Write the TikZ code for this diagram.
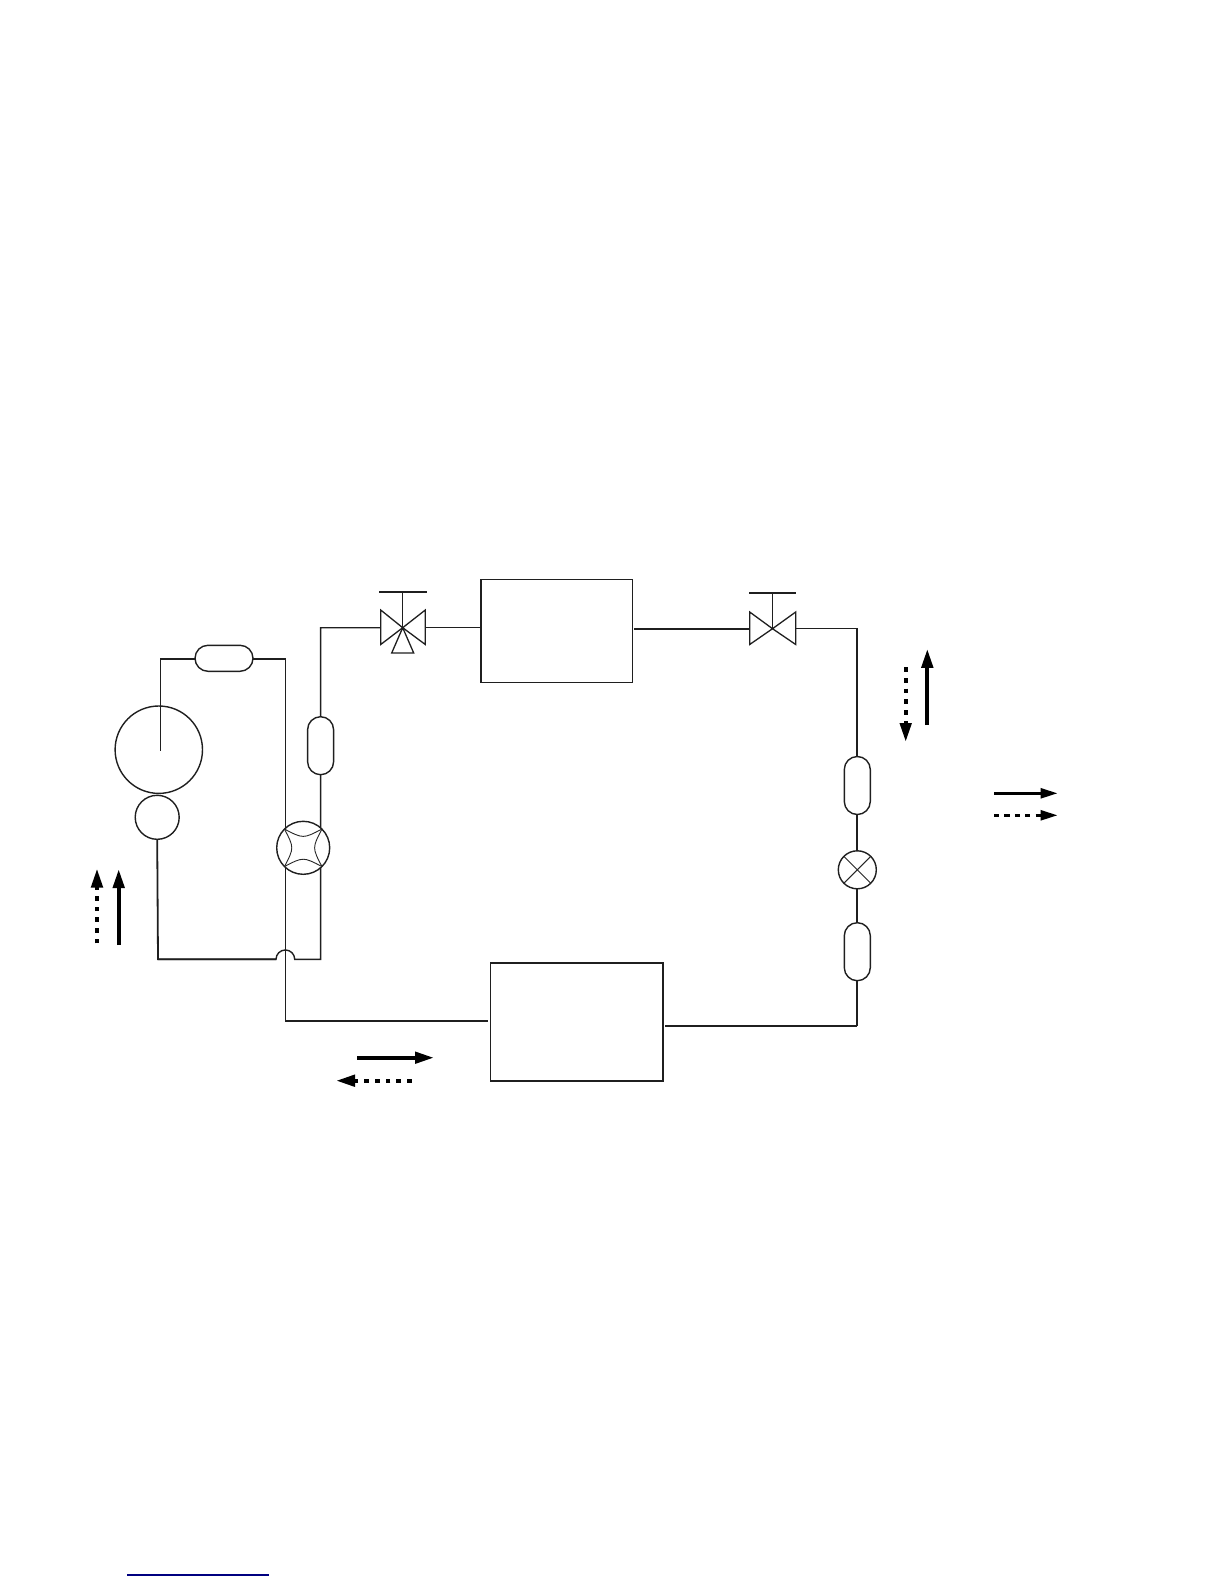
\documentclass[tikz,border=0pt]{standalone}
\usetikzlibrary{arrows.meta}
\definecolor{linkblue}{RGB}{0,0,128}
\tikzset{
  x=0.5pt,y=-0.5pt,
  pipe/.style={line width=0.7pt,line join=miter,black!88},
  heavypipe/.style={line width=0.9pt,line join=miter,black!88},
  thinpipe/.style={line width=0.45pt,black!85},
  vfilter/.style={draw=black!88,line width=0.7pt,fill=white,rectangle,rounded corners=6.5pt,minimum width=13pt,minimum height=29pt,outer sep=0pt,inner sep=0pt},
  hfilter/.style={draw=black!88,line width=0.7pt,fill=white,rectangle,rounded corners=6.5pt,minimum width=29pt,minimum height=13pt,outer sep=0pt,inner sep=0pt},
  roundpart/.style={draw=black!88,line width=0.7pt,fill=white,circle,outer sep=0pt,inner sep=0pt},
  boxpart/.style={draw=black!88,line width=0.7pt,rectangle,outer sep=0pt,inner sep=0pt},
  valvepart/.style={draw=black!88,line width=0.65pt,line join=miter},
  solidflow/.style={line width=2pt,-{Triangle[length=9.5pt,width=5.6pt]}},
  dashflow/.style={line width=2pt,dash pattern=on 2.35pt off 3pt,-{Triangle[length=9.5pt,width=5.6pt]}},
  solidflowsm/.style={line width=1.7pt,-{Triangle[length=8.7pt,width=4.8pt]}},
  dashflowsm/.style={line width=1.7pt,dash pattern=on 2.6pt off 2.6pt,-{Triangle[length=8.7pt,width=4.8pt]}},
}
\begin{document}
\begin{tikzpicture}
\useasboundingbox (0,0) rectangle (1224,1584);
% reference points
\coordinate (pipeIn) at (160.3,750.7);
\coordinate (pipeLeftTop) at (160.3,659);
\coordinate (pipeMid) at (285.3,659);
\coordinate (pipeMidBot) at (285.3,1020.7);
\coordinate (jumpL) at (276,959.3);
\coordinate (jumpR) at (294.7,959.3);
\coordinate (cornerBL) at (158,959.3);
\coordinate (cornerBR) at (320.6,959.3);
\coordinate (cornerTL) at (320.6,627.7);
\coordinate (v1) at (402.7,627.7);
\coordinate (v1L) at (380.7,627.7);
\coordinate (v1R) at (425.3,627.7);
\coordinate (v2) at (772.5,628.7);
\coordinate (v2L) at (749.7,628.7);
\coordinate (v2R) at (795.7,628.7);
\coordinate (cornerTR) at (857,628.7);
\coordinate (cornerBR2) at (857,1026);
% parts
\node[boxpart,minimum width=75.75pt,minimum height=51.75pt] (hx1) at (556.8,631) {};
\node[boxpart,minimum width=86.2pt,minimum height=59pt] (hx2) at (576.8,1022) {};
% pipes
\draw[pipe] (cornerBL) -- (jumpL) arc[start angle=180,end angle=360,radius=9.35] -- (cornerBR) -- (cornerTL) -- (v1L);
\draw[pipe] (pipeIn) -- (pipeLeftTop) -- (pipeMid) -- (pipeMidBot);
\draw[heavypipe,shorten >=1.2pt] (pipeMidBot) -- (pipeMidBot -| hx2.west);
\draw[pipe] (v1R) -- (v1R -| hx1.west);
\draw[heavypipe,shorten <=0.6pt] (v2L -| hx1.east) -- (v2L);
\draw[pipe] (v2R) -- (cornerTR) -- (cornerBR2);
\draw[heavypipe,shorten >=1.2pt] (cornerBR2) -- (cornerBR2 -| hx2.east);
% accumulator (unfilled so the inlet pipe shows), compressor
\node[draw=black!88,line width=0.7pt,circle,outer sep=0pt,inner sep=0pt,minimum size=43.7pt] (acc) at (158.8,749.7) {};
\node[roundpart,minimum size=22pt] (comp) at (157.2,817.3) {};
\draw[heavypipe] (comp.south) -- (cornerBL) -- (jumpL);
% filters
\node[hfilter] (fTop) at (224,658.3) {};
\node[vfilter] (fMid) at (320.6,745.7) {};
\node[vfilter] (fR1) at (857.3,785.5) {};
\node[vfilter] (fR2) at (857.3,951.7) {};
% four-way valve
\node[roundpart,minimum size=26.5pt] (fw) at (303.2,847.8) {};
\draw[thinpipe] (fw.north west) .. controls ([yshift=4.5pt]fw.center) .. (fw.north east);
\draw[thinpipe] (fw.south west) .. controls ([yshift=-4.5pt]fw.center) .. (fw.south east);
\draw[thinpipe] (fw.north west) .. controls ([xshift=-4.5pt]fw.center) .. (fw.south west);
\draw[thinpipe] (fw.north east) .. controls ([xshift=4.5pt]fw.center) .. (fw.south east);
% expansion valve
\node[roundpart,minimum size=19pt] (ev) at (857.3,869.8) {};
\draw[thinpipe] (ev.north west) -- (ev.south east);
\draw[thinpipe] (ev.north east) -- (ev.south west);
% three-way valve
\draw[valvepart] (v1) -- (380.7,610) -- (380.7,644.5) -- cycle;
\draw[valvepart] (v1) -- (425.3,610) -- (425.3,644.5) -- cycle;
\draw[valvepart] (v1) -- (391.7,653) -- (413.7,653) -- cycle;
\draw[valvepart] (v1) -- (402.7,592);
\draw[valvepart,line width=0.8pt] (379,592) -- (426.7,592);
% two-way valve
\draw[valvepart] (v2) -- (749.7,612) -- (749.7,644.5) -- cycle;
\draw[valvepart] (v2) -- (795.7,612) -- (795.7,644.5) -- cycle;
\draw[valvepart,line width=0.5pt] (v2) -- (772.5,592.7);
\draw[valvepart,line width=0.8pt] (749.3,592.7) -- (795.7,592.7);
% flow arrows
\coordinate (a1s) at (97,943.3); \coordinate (a1e) at (97,868.5);
\coordinate (a2s) at (118.7,945); \coordinate (a2e) at (118.7,869);
\coordinate (a3s) at (927.3,725); \coordinate (a3e) at (927.3,648.8);
\coordinate (a4s) at (905.7,667.3); \coordinate (a4e) at (905.7,742);
\coordinate (a5s) at (994,793.3); \coordinate (a5e) at (1058,793.3);
\coordinate (a6s) at (994,815.3); \coordinate (a6e) at (1058,815.3);
\coordinate (a7s) at (357,1057.7); \coordinate (a7e) at (434,1057.7);
\coordinate (a8s) at (411.7,1080.7); \coordinate (a8e) at (336,1080.7);
\draw[dashflow] (a1s) -- (a1e);
\draw[solidflow] (a2s) -- (a2e);
\draw[solidflow] (a3s) -- (a3e);
\draw[dashflow] (a4s) -- (a4e);
\draw[solidflowsm] (a5s) -- (a5e);
\draw[dashflowsm] (a6s) -- (a6e);
\draw[solidflow] (a7s) -- (a7e);
\draw[dashflow] (a8s) -- (a8e);
% link underline at the foot of the page
\coordinate (ulL) at (127,1575); \coordinate (ulR) at (269,1575);
\draw[linkblue,line width=0.6pt] (ulL) -- (ulR);
\end{tikzpicture}
\end{document}
